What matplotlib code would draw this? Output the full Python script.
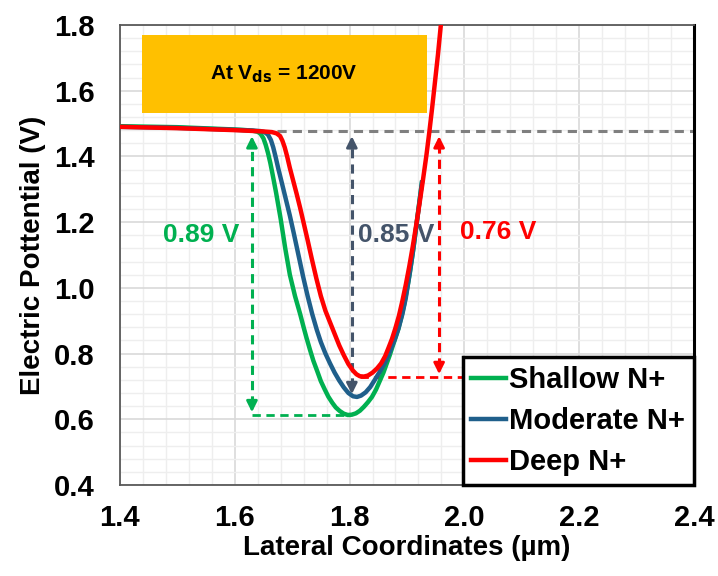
'''
Electric potential along the lateral coordinate for three N+ depths
'''

import matplotlib.pyplot as plt
from matplotlib.ticker import MultipleLocator
from matplotlib.patches import Rectangle

plt.rcParams['font.family'] = ['Liberation Sans', 'DejaVu Sans']
plt.rcParams['font.weight'] = 'bold'
plt.rcParams['axes.labelweight'] = 'bold'

# curves (x in um, potential in V)
shallow_x = [1.40, 1.50, 1.60, 1.620, 1.632, 1.640, 1.645, 1.650, 1.654, 1.658,
             1.662, 1.666, 1.672, 1.680, 1.688, 1.696, 1.705, 1.714, 1.720, 1.725,
             1.731, 1.737, 1.744, 1.750, 1.757, 1.763, 1.770, 1.776, 1.783, 1.790,
             1.797, 1.804, 1.811, 1.818, 1.825, 1.832, 1.839, 1.846, 1.852, 1.859,
             1.865, 1.870, 1.875, 1.880, 1.885, 1.890, 1.895, 1.900, 1.905, 1.912,
             1.920, 1.926]
shallow_y = [1.492, 1.489, 1.482, 1.480, 1.478, 1.475, 1.469, 1.455, 1.435, 1.410,
             1.380, 1.345, 1.290, 1.210, 1.120, 1.040, 0.975, 0.920, 0.880, 0.848,
             0.812, 0.778, 0.745, 0.716, 0.690, 0.669, 0.650, 0.636, 0.625, 0.617,
             0.613, 0.614, 0.618, 0.626, 0.638, 0.652, 0.668, 0.690, 0.714, 0.742,
             0.771, 0.795, 0.822, 0.848, 0.875, 0.910, 0.948, 0.995, 1.045, 1.130,
             1.240, 1.320]

moderate_x = [1.40, 1.50, 1.60, 1.630, 1.645, 1.652, 1.658, 1.663, 1.667, 1.671,
              1.676, 1.682, 1.689, 1.696, 1.703, 1.711, 1.719, 1.727, 1.735, 1.743,
              1.750, 1.758, 1.766, 1.774, 1.782, 1.790, 1.798, 1.806, 1.813, 1.820,
              1.828, 1.836, 1.844, 1.852, 1.862, 1.870, 1.878, 1.885, 1.892, 1.898,
              1.903, 1.910, 1.918, 1.926]
moderate_y = [1.490, 1.487, 1.481, 1.479, 1.477, 1.474, 1.466, 1.450, 1.428, 1.400,
              1.362, 1.320, 1.270, 1.220, 1.165, 1.100, 1.035, 0.975, 0.920, 0.872,
              0.835, 0.800, 0.770, 0.742, 0.718, 0.697, 0.680, 0.670, 0.668, 0.672,
              0.682, 0.698, 0.720, 0.743, 0.773, 0.805, 0.840, 0.875, 0.920, 0.970,
              1.025, 1.105, 1.210, 1.320]

deep_x = [1.40, 1.50, 1.60, 1.650, 1.665, 1.673, 1.679, 1.683, 1.687, 1.691,
          1.696, 1.702, 1.708, 1.714, 1.720, 1.727, 1.734, 1.742, 1.750, 1.758,
          1.766, 1.774, 1.782, 1.790, 1.798, 1.806, 1.812, 1.818, 1.825, 1.832,
          1.840, 1.848, 1.855, 1.862, 1.868, 1.874, 1.880, 1.886, 1.892, 1.898,
          1.904, 1.910, 1.916, 1.922, 1.928, 1.934, 1.939, 1.944, 1.949, 1.954,
          1.959, 1.962]
deep_y = [1.490, 1.486, 1.480, 1.476, 1.474, 1.470, 1.462, 1.448, 1.428, 1.402,
          1.365, 1.325, 1.285, 1.243, 1.198, 1.145, 1.090, 1.030, 0.975, 0.930,
          0.895, 0.860, 0.825, 0.795, 0.768, 0.748, 0.737, 0.731, 0.730, 0.733,
          0.742, 0.755, 0.770, 0.792, 0.818, 0.845, 0.878, 0.915, 0.960, 1.010,
          1.065, 1.125, 1.190, 1.258, 1.330, 1.405, 1.475, 1.550, 1.630, 1.710,
          1.800, 1.850]

labels = ['Shallow N+', 'Moderate N+', 'Deep N+']
colors = ['#00B050', '#1F5F8B', '#FF0000']

ref_level = 1.478
mins = [0.613, 0.668, 0.729]
arrow_x = [1.630, 1.804, 1.956]
drops = ['0.89 V', '0.85 V', '0.76 V']
drop_colors = ['#00B050', '#44546A', '#FF0000']

fig = plt.figure(figsize=(7.18, 5.76), dpi=100)
ax = fig.add_axes([0.167, 0.158, 0.7996, 0.7986])

ax.set_xlim(1.4, 2.4)
ax.set_ylim(0.4, 1.8)
ax.xaxis.set_major_locator(MultipleLocator(0.2))
ax.yaxis.set_major_locator(MultipleLocator(0.2))
ax.xaxis.set_minor_locator(MultipleLocator(0.04))
ax.yaxis.set_minor_locator(MultipleLocator(0.04))
ax.grid(which='major', color='#d9d9d9', lw=1.2, zorder=0)
ax.grid(which='minor', color='#eeeeee', lw=1.0, zorder=0)
ax.set_axisbelow(True)
ax.tick_params(which='both', length=0)
ax.tick_params(axis='x', pad=14, labelsize=21)
ax.tick_params(axis='y', pad=18, labelsize=21)

for s in ['left', 'bottom', 'top']:
    ax.spines[s].set_color('#595959')
    ax.spines[s].set_linewidth(1.3)
ax.spines['right'].set_color('black')
ax.spines['right'].set_linewidth(2.2)

# dashed reference line at the plateau
ax.plot([1.673, 2.4], [ref_level, ref_level], ls=(0, (3, 2)), c='#7F7F7F', lw=2.2, zorder=2)

# dashed guide lines to the minima
ax.plot([arrow_x[0], 1.797], [mins[0], mins[0]], ls=(0, (3, 2)), c=drop_colors[0], lw=2, zorder=2)
ax.plot([1.818, 2.0], [mins[2], mins[2]], ls=(0, (3, 2)), c=drop_colors[2], lw=2, zorder=2)

# dashed double arrows
for xa, lo, c in zip(arrow_x, mins, drop_colors):
    top = ref_level - 0.008
    ax.plot([xa, xa], [lo + 0.03, top - 0.03], ls=(0, (3, 2)), c=c, lw=2.2, zorder=2)
    ax.annotate('', xy=(xa, top), xytext=(xa, top - 0.04),
                arrowprops=dict(arrowstyle='-|>', color=c, lw=2, mutation_scale=16), zorder=2)
    ax.annotate('', xy=(xa, lo), xytext=(xa, lo + 0.04),
                arrowprops=dict(arrowstyle='-|>', color=c, lw=2, mutation_scale=16), zorder=2)

ax.plot(shallow_x, shallow_y, c=colors[0], lw=3.2, label=labels[0], zorder=3)
ax.plot(moderate_x, moderate_y, c=colors[1], lw=3.2, label=labels[1], zorder=4)
ax.plot(deep_x, deep_y, c=colors[2], lw=3.2, label=labels[2], zorder=5)

ax.text(1.541, 1.16, drops[0], color=drop_colors[0], fontsize=19, ha='center', va='center')
ax.text(1.882, 1.16, drops[1], color=drop_colors[1], fontsize=19, ha='center', va='center')
ax.text(2.059, 1.17, drops[2], color=drop_colors[2], fontsize=19, ha='center', va='center')

ax.add_patch(Rectangle((1.438, 1.532), 0.497, 0.238, fc='#FFC000', ec='none', zorder=6))
ax.text(1.686, 1.651, r'At V$_{\mathbf{ds}}$ = 1200V', fontsize=15, ha='center', va='center', zorder=7)

ax.set_xlabel('Lateral Coordinates (µm)', fontsize=20, labelpad=2)
ax.set_ylabel('Electric Pottential (V)', fontsize=20, labelpad=6)

leg = ax.legend(loc='lower right', bbox_to_anchor=(1.0, 0.0), borderaxespad=0,
                fontsize=21, frameon=True, fancybox=False, framealpha=1,
                edgecolor='black', handlelength=1.2, handletextpad=0.1,
                borderpad=0.3, labelspacing=0.45)
leg.get_frame().set_linewidth(2.5)
leg.set_zorder(8)

plt.savefig('out.png', dpi=100)
